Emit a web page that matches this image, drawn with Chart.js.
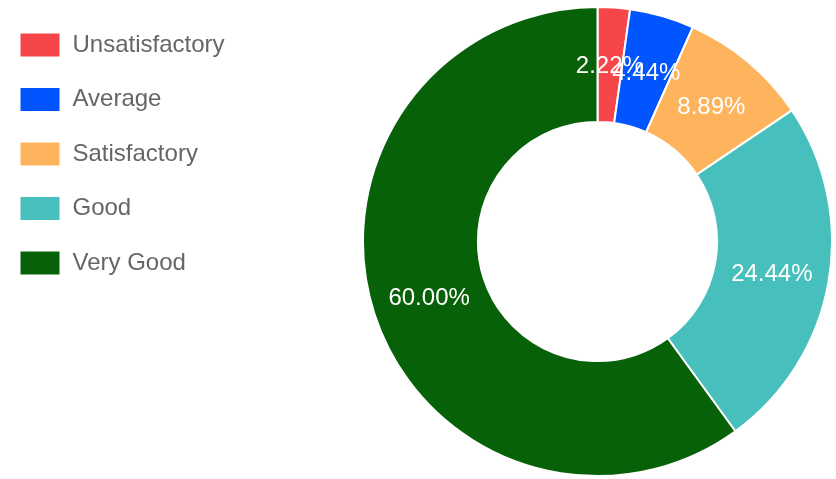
<!DOCTYPE html>
<html>
<head>
<meta charset="utf-8">
<script src="https://cdn.jsdelivr.net/npm/chart.js@4.4.0/dist/chart.umd.min.js"></script>
<style>
  html, body { margin: 0; padding: 0; background: #fff; }
  #wrap { width: 836px; height: 479px; }
</style>
</head>
<body>
<div id="wrap"><canvas id="myChart"></canvas></div>
<script>
var labels = ["Unsatisfactory", "Average", "Satisfactory", "Good", "Very Good"];
var counts = [1, 2, 4, 11, 27];
var colors = ["#F7464A", "#0055FF", "#FDB45C", "#46BFBD", "#076108"];

// widen the legend box so the ring sits on the right
var legendWidth = {
  id: 'legendWidth',
  beforeInit: function (chart) {
    var fit = chart.legend.fit;
    chart.legend.fit = function () {
      fit.bind(chart.legend)();
      this.width = 369;
    };
  },
  afterLayout: function (chart) {
    chart.legend.top -= 3;
    chart.legend.bottom -= 3;
  }
};

// percentage labels on each slice
var pctLabels = {
  id: 'pctLabels',
  afterDatasetsDraw: function (chart) {
    var ctx = chart.ctx;
    var meta = chart.getDatasetMeta(0);
    var total = counts.reduce(function (a, b) { return a + b; }, 0);
    ctx.save();
    ctx.font = '24px "Liberation Sans", Arial, sans-serif';
    ctx.fillStyle = '#fff';
    ctx.textAlign = 'center';
    ctx.textBaseline = 'alphabetic';
    meta.data.forEach(function (arc, i) {
      var p = arc.tooltipPosition();
      ctx.fillText((counts[i] / total * 100).toFixed(2) + '%', p.x, p.y + 8.6);
    });
    ctx.restore();
  }
};

var config = {
  type: 'doughnut',
  data: {
    labels: labels,
    datasets: [{
      data: counts,
      backgroundColor: colors,
      borderColor: '#fff',
      borderWidth: 2
    }]
  },
  options: {
    responsive: true,
    maintainAspectRatio: false,
    animation: false,
    cutout: '51%',
    layout: { padding: { left: -10, top: 6, bottom: 2 } },
    plugins: {
      tooltip: { enabled: false },
      legend: {
        position: 'left',
        align: 'start',
        labels: {
          boxWidth: 41,
          boxHeight: 25,
          padding: 29.5,
          color: '#666',
          font: { size: 24, family: '"Liberation Sans", Arial, sans-serif' }
        }
      }
    }
  },
  plugins: [legendWidth, pctLabels]
};

var myChart = new Chart(document.getElementById('myChart'), config);
</script>
</body>
</html>
